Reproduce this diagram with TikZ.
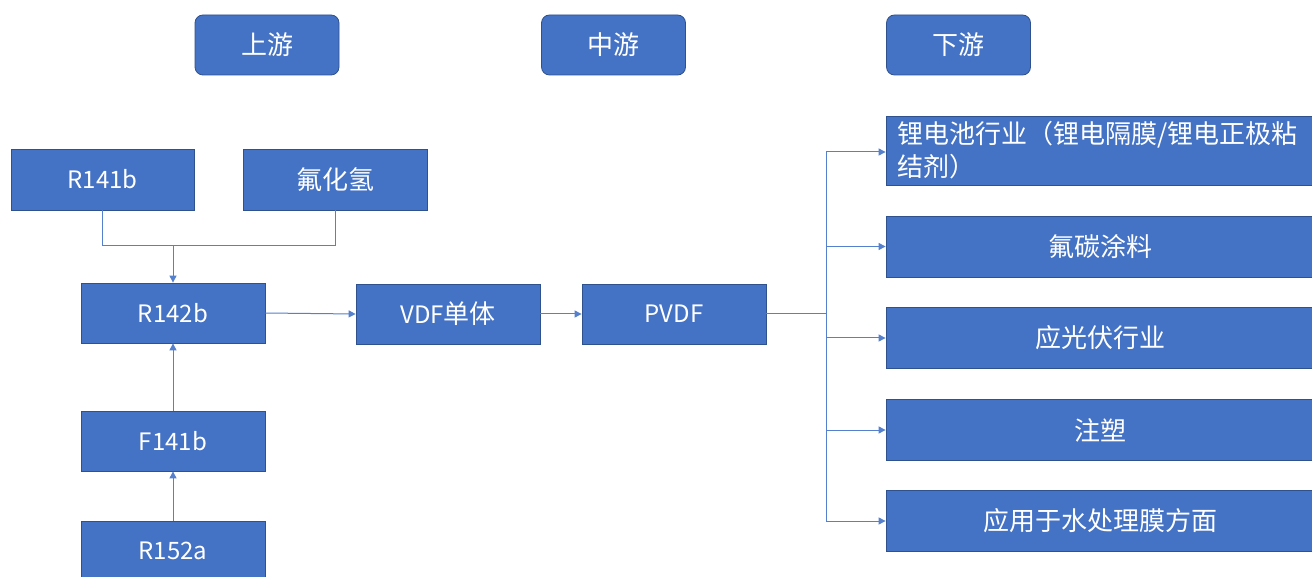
\documentclass[tikz,border=0pt]{standalone}
\usepackage{fontspec}
\newfontfamily\cjk{Noto Sans CJK SC}
\usetikzlibrary{arrows.meta}
\definecolor{boxblue}{RGB}{68,114,196}
\definecolor{boxedge}{RGB}{47,82,143}
\definecolor{linkblue}{RGB}{84,128,205}
\newcommand{\lat}[1]{{\fontsize{24}{33}\selectfont #1}}
\tikzset{
  box/.style={draw=boxedge, line width=0.8pt, fill=boxblue, text=white,
    font=\cjk\fontsize{26}{33}\selectfont, inner sep=0pt,
    minimum width=184pt, minimum height=60pt},
  stage/.style={box, rounded corners=8pt, minimum width=144pt},
  wide/.style={box, minimum width=428pt, minimum height=61pt},
  link/.style={draw=linkblue, line width=1pt},
  arr/.style={link, -{Triangle[length=7pt,width=7pt]}}
}
\begin{document}
\begin{tikzpicture}[x=1pt,y=-1pt]
\clip (0,0) rectangle (1312,577);
\fill[white] (0,0) rectangle (1312,577);
% stage headers
\node[stage] (up) at (267,45) {上游};
\node[stage] (mid) at (613.5,45) {中游};
\node[stage] (down) at (958.5,45) {下游};
% upstream
\node[box, minimum width=183pt, minimum height=61pt] (r141b) at (102.5,179.5) {\lat{R141b}};
\node[box, minimum height=61pt] (hf) at (335,179.5) {氟化氢};
\node[box] (r142b) at (173,313) {\lat{R142b}};
\node[box] (f141b) at (173,441) {\lat{F141b}};
\node[box] (r152a) at (173,551) {\lat{R152a}};
% midstream
\node[box] (vdf) at (448,314) {\lat{VDF}单体};
\node[box] (pvdf) at (674,314) {\lat{PVDF}};
% downstream
\node[wide, minimum height=69pt, text width=406pt, inner xsep=11pt, align=left] (d1) at (1100,150.5) {锂电池行业（锂电隔膜/锂电正极粘\\结剂）};
\node[wide] (d2) at (1100,246.5) {氟碳涂料};
\node[wide] (d3) at (1100,338) {应光伏行业};
\node[wide] (d4) at (1100,430) {注塑};
\node[wide] (d5) at (1100,521) {应用于水处理膜方面};
% connectors upstream
\coordinate (jn) at (173,246);
\draw[link] (r141b.south) |- (jn);
\draw[link] (hf.south) |- (jn);
\draw[arr] (jn) -- (r142b.north);
\draw[arr] (f141b.north) -- (r142b.south);
\draw[arr] (r152a.north) -- (f141b.south);
\draw[arr] (r142b.east) -- (vdf.west);
\draw[arr] (vdf.east) -- (pvdf.west);
% fan-out
\coordinate (tr) at (826,314);
\coordinate (tt) at (826,152);
\coordinate (tb) at (826,521);
\draw[link] (pvdf.east) -- (tr);
\draw[link] (tt) -- (tb);
\draw[arr] (tt) -- (tt -| d1.west);
\draw[arr] (826,246.5) -- (d2.west);
\draw[arr] (826,338) -- (d3.west);
\draw[arr] (826,430) -- (d4.west);
\draw[arr] (tb) -- (d5.west);
\end{tikzpicture}
\end{document}
